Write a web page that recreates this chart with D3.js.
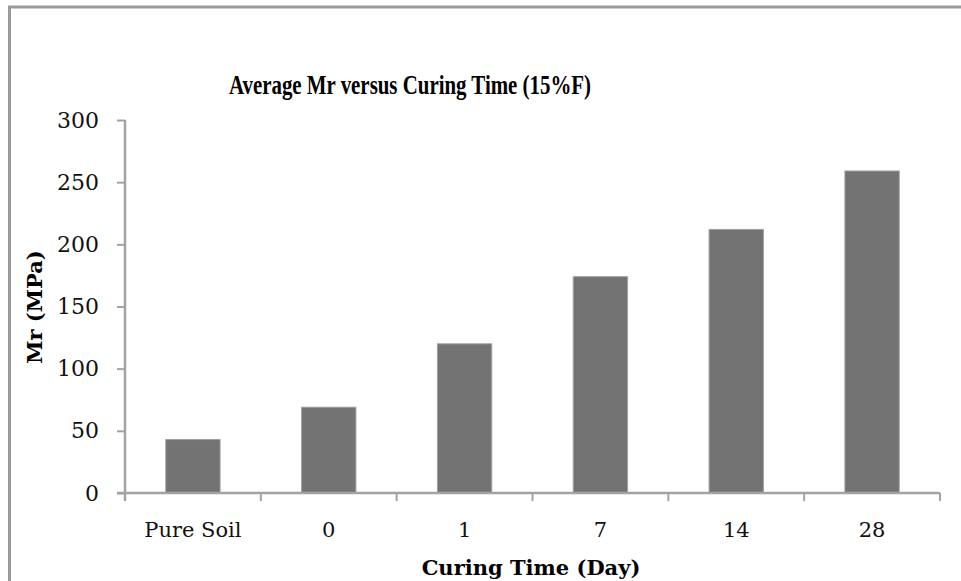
<!DOCTYPE html>
<html>
<head>
<meta charset="utf-8">
<script src="https://cdn.jsdelivr.net/npm/d3@7"></script>
<style>
  html, body { margin: 0; padding: 0; background: #fff; }
  svg { display: block; }
</style>
</head>
<body>
<svg id="chart" width="961" height="581"></svg>
<script>
const categories = ["Pure Soil", "0", "1", "7", "14", "28"];
const mrValues = [43, 69, 120, 174, 212, 259];
const yTicks = [0, 50, 100, 150, 200, 250, 300];
const titleText = "Average Mr versus Curing Time (15%F)";
const xTitle = "Curing Time (Day)";
const yTitle = "Mr (MPa)";

const svg = d3.select("#chart");
const W = 961, H = 581;
const plot = { left: 125, right: 940, top: 120, bottom: 493 };
const axisColor = "#a3a3a3";

// outer chart border (left + top visible)
svg.append("line").attr("x1", 9.5).attr("x2", 9.5).attr("y1", 7).attr("y2", H)
  .attr("stroke", "#9a9a9a").attr("stroke-width", 3);
svg.append("line").attr("x1", 8).attr("x2", W).attr("y1", 7).attr("y2", 7)
  .attr("stroke", "#9a9a9a").attr("stroke-width", 3);

const x = d3.scaleBand().domain(categories).range([plot.left, plot.right]).paddingInner(0).paddingOuter(0);
const y = d3.scaleLinear().domain([0, 300]).range([plot.bottom, plot.top]);

// bars
const barFrac = 0.4;
svg.append("g").selectAll("rect").data(categories).join("rect")
  .attr("x", d => x(d) + x.bandwidth() * (1 - barFrac) / 2)
  .attr("width", x.bandwidth() * barFrac)
  .attr("y", (d, i) => y(mrValues[i]))
  .attr("height", (d, i) => y(0) - y(mrValues[i]))
  .attr("fill", "#737373")
  .attr("stroke", "#a0a0a0")
  .attr("stroke-width", 1);

// y axis
const yAxis = d3.axisLeft(y).tickValues(yTicks).tickSize(8).tickPadding(18).tickSizeOuter(0);
const gy = svg.append("g").attr("transform", `translate(${plot.left},0)`).call(yAxis);
gy.select(".domain").attr("stroke", axisColor).attr("stroke-width", 2.5)
  .attr("d", `M0,${plot.top}V${plot.bottom + 8}`);
gy.selectAll(".tick line").attr("stroke", axisColor).attr("stroke-width", 2);
gy.selectAll(".tick text")
  .attr("font-family", "'DejaVu Serif', serif")
  .attr("font-size", 22)
  .attr("fill", "#111");

// x axis: line + ticks at band boundaries
const gx = svg.append("g");
gx.append("line").attr("x1", plot.left - 8).attr("x2", plot.right).attr("y1", plot.bottom).attr("y2", plot.bottom)
  .attr("stroke", axisColor).attr("stroke-width", 2.5);
const bounds = categories.map(d => x(d)).concat([x(categories[categories.length - 1]) + x.bandwidth()]);
gx.selectAll("line.tk").data(bounds).join("line").attr("class", "tk")
  .attr("x1", d => d).attr("x2", d => d)
  .attr("y1", plot.bottom).attr("y2", plot.bottom + 8)
  .attr("stroke", axisColor).attr("stroke-width", 2);
gx.selectAll("text").data(categories).join("text")
  .attr("x", d => x(d) + x.bandwidth() / 2)
  .attr("y", 537)
  .attr("text-anchor", "middle")
  .attr("font-family", "'DejaVu Serif', serif")
  .attr("font-size", 21)
  .attr("fill", "#111")
  .text(d => d);

// title
svg.append("text")
  .attr("x", 410).attr("y", 94)
  .attr("text-anchor", "middle")
  .attr("font-family", "'Liberation Serif', 'Times New Roman', serif")
  .attr("font-weight", "bold")
  .attr("font-size", 27)
  .attr("textLength", 362)
  .attr("lengthAdjust", "spacingAndGlyphs")
  .attr("fill", "#000")
  .text(titleText);

// x axis title
svg.append("text")
  .attr("x", 531).attr("y", 575)
  .attr("text-anchor", "middle")
  .attr("font-family", "'DejaVu Serif', serif")
  .attr("font-weight", "bold")
  .attr("font-size", 21)
  .attr("fill", "#000")
  .text(xTitle);

// y axis title
svg.append("text")
  .attr("transform", "translate(42,307) rotate(-90)")
  .attr("text-anchor", "middle")
  .attr("font-family", "'DejaVu Serif', serif")
  .attr("font-weight", "bold")
  .attr("font-size", 21)
  .attr("fill", "#000")
  .text(yTitle);
</script>
</body>
</html>
